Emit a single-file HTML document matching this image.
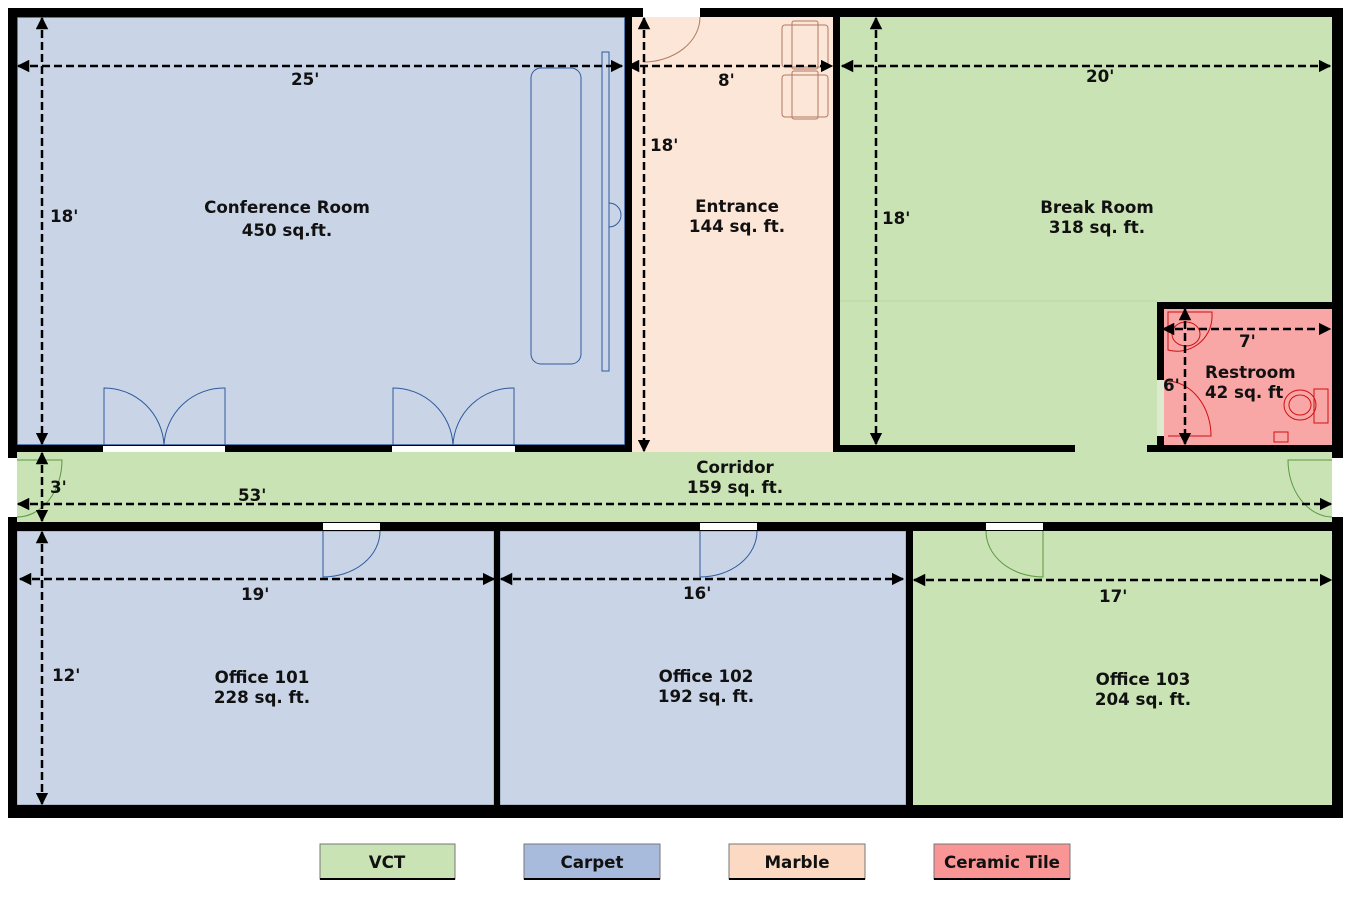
<!DOCTYPE html>
<html><head><meta charset="utf-8"><style>
html,body{margin:0;padding:0;background:#fff;}
svg text{font-family:"DejaVu Sans","Liberation Sans",sans-serif;font-weight:bold;font-size:16.7px;fill:#111;}
</style></head><body>
<svg width="1371" height="906" viewBox="0 0 1371 906" xmlns="http://www.w3.org/2000/svg">
<defs>
<marker id="a" viewBox="0 0 10 10" refX="9" refY="5" markerWidth="5" markerHeight="5" orient="auto-start-reverse"><path d="M0,0L10,5L0,10z" fill="#000"/></marker>
</defs>
<rect x="17" y="17" width="608" height="428" fill="#c9d5e7" stroke="#2e5a9c" stroke-width="1.5"/>
<rect x="632" y="17" width="201" height="435" fill="#fce6d8"/>
<rect x="840" y="17" width="492" height="428" fill="#c9e3b4"/>
<line x1="840" y1="301" x2="1157" y2="301" stroke="#b5d9a0" stroke-width="1"/>
<rect x="1164" y="309" width="168" height="136" fill="#f9a6a6"/>
<rect x="17" y="452" width="1315" height="70" fill="#c9e3b4"/>
<rect x="1075" y="445" width="72" height="8" fill="#c9e3b4"/>
<rect x="1157" y="380" width="7" height="56" fill="#dcebd0"/>
<rect x="17" y="531" width="477" height="274" fill="#c9d5e7" stroke="#8a9ab0" stroke-width="1"/>
<rect x="500" y="531" width="406" height="274" fill="#c9d5e7" stroke="#8a9ab0" stroke-width="1"/>
<rect x="913" y="531" width="419" height="274" fill="#c9e3b4"/>
<g fill="#000">
<rect x="8" y="8" width="635" height="9"/>
<rect x="700" y="8" width="643" height="9"/>
<rect x="8" y="8" width="9" height="450"/>
<rect x="625" y="8" width="7" height="444"/>
<rect x="833" y="8" width="7" height="444"/>
<rect x="1332" y="8" width="11" height="450"/>
<rect x="8" y="445" width="624" height="7"/>
<rect x="840" y="445" width="235" height="7"/>
<rect x="1147" y="445" width="196" height="7"/>
<rect x="1157" y="302" width="186" height="7"/>
<rect x="1157" y="302" width="7" height="78"/>
<rect x="1157" y="436" width="7" height="12"/>
<rect x="8" y="517" width="9" height="301"/>
<rect x="8" y="522" width="1335" height="9"/>
<rect x="1332" y="517" width="11" height="301"/>
<rect x="494" y="531" width="6" height="274"/>
<rect x="906" y="531" width="7" height="274"/>
<rect x="8" y="805" width="1335" height="13"/>
</g>
<g fill="#fff">
<rect x="103" y="446" width="122" height="6"/>
<rect x="392" y="446" width="123" height="6"/>
<rect x="323" y="523" width="57" height="7"/>
<rect x="700" y="523" width="57" height="7"/>
<rect x="986" y="523" width="57" height="7"/>
</g>
<g fill="none" stroke-width="1">
<rect x="531" y="68" width="50" height="296" rx="10" stroke="#2e5a9c"/>
<rect x="602" y="52" width="7" height="319" stroke="#2e5a9c"/>
<path d="M609,203 A12,12 0 0 1 609,227" stroke="#2e5a9c"/>
<path d="M104,445 V388 A60,60 0 0 1 164,445 M225,445 V388 A60,60 0 0 0 164,445" stroke="#2e5a9c"/>
<path d="M393,445 V388 A60,60 0 0 1 453,445 M514,445 V388 A60,60 0 0 0 453,445" stroke="#2e5a9c"/>
<path d="M643,62 A57,45 0 0 0 700,17" stroke="#b07a60"/>
<g stroke="#b07a60"><rect x="782" y="25" width="46" height="42" rx="3"/><rect x="792" y="21" width="26" height="48" rx="2"/><rect x="782" y="75" width="46" height="42" rx="3"/><rect x="792" y="71" width="26" height="48" rx="2"/></g>
<path d="M323,531 V577 A57,46 0 0 0 380,531" stroke="#2e5a9c"/>
<path d="M700,531 V577 A57,46 0 0 0 757,531" stroke="#2e5a9c"/>
<path d="M1043,531 V577 A57,46 0 0 1 986,531" stroke="#5a9a40"/>
<path d="M17,517 A45,57 0 0 0 62,460 H17" stroke="#5a9a40"/>
<path d="M1332,460 H1288 A45,57 0 0 0 1332,517" stroke="#5a9a40"/>
<g stroke="#d01010"><path d="M1168,436 H1211 A45,55 0 0 0 1168,381"/><path d="M1168,312 H1212 V318 A35,35 0 0 1 1168,350 Z"/><ellipse cx="1186" cy="334" rx="14" ry="12"/><ellipse cx="1300" cy="405" rx="16" ry="15"/><ellipse cx="1300" cy="405" rx="11" ry="10"/><rect x="1314" y="389" width="14" height="34"/><rect x="1274" y="432" width="14" height="10"/></g>
</g>
<g stroke="#000" stroke-width="2.5" stroke-dasharray="8,4" marker-start="url(#a)" marker-end="url(#a)" fill="none">
<line x1="18" y1="66" x2="622" y2="66"/>
<line x1="42" y1="18" x2="42" y2="444"/>
<line x1="628" y1="66" x2="832" y2="66"/>
<line x1="644" y1="18" x2="644" y2="451"/>
<line x1="842" y1="66" x2="1330" y2="66"/>
<line x1="876" y1="18" x2="876" y2="444"/>
<line x1="1163" y1="329" x2="1330" y2="329"/>
<line x1="1185" y1="309" x2="1185" y2="444"/>
<line x1="42" y1="453" x2="42" y2="521"/>
<line x1="18" y1="504" x2="1331" y2="504"/>
<line x1="42" y1="532" x2="42" y2="804"/>
<line x1="20" y1="579" x2="494" y2="579"/>
<line x1="501" y1="579" x2="903" y2="579"/>
<line x1="914" y1="580" x2="1331" y2="580"/>
</g>
<text x="291" y="85">25'</text>
<text x="50" y="222">18'</text>
<text x="718" y="86">8'</text>
<text x="650" y="151">18'</text>
<text x="1086" y="82">20'</text>
<text x="882" y="224">18'</text>
<text x="1239" y="347">7'</text>
<text x="1163" y="391">6'</text>
<text x="50" y="493">3'</text>
<text x="238" y="501">53'</text>
<text x="52" y="681">12'</text>
<text x="241" y="600">19'</text>
<text x="683" y="599">16'</text>
<text x="1099" y="602">17'</text>
<g text-anchor="middle">
<text x="287" y="213">Conference Room</text><text x="287" y="236">450 sq.ft.</text>
<text x="737" y="212">Entrance</text><text x="737" y="232">144 sq. ft.</text>
<text x="1097" y="213">Break Room</text><text x="1097" y="233">318 sq. ft.</text>
<text x="735" y="473">Corridor</text><text x="735" y="493">159 sq. ft.</text>
<text x="262" y="683">Office 101</text><text x="262" y="703">228 sq. ft.</text>
<text x="706" y="682">Office 102</text><text x="706" y="702">192 sq. ft.</text>
<text x="1143" y="685">Office 103</text><text x="1143" y="705">204 sq. ft.</text>
</g>
<text x="1205" y="378">Restroom</text><text x="1205" y="398">42 sq. ft</text>
<g stroke="#777" stroke-width="1">
<rect x="320" y="844" width="135" height="35" fill="#c9e3b4"/>
<rect x="524" y="844" width="136" height="35" fill="#a9bbdc"/>
<rect x="729" y="844" width="136" height="35" fill="#fcd9c2"/>
<rect x="934" y="844" width="136" height="35" fill="#f99595"/>
</g>
<g fill="#000"><rect x="320" y="878" width="135" height="2"/><rect x="524" y="878" width="136" height="2"/><rect x="729" y="878" width="136" height="2"/><rect x="934" y="878" width="136" height="2"/></g>
<g text-anchor="middle">
<text x="387" y="868">VCT</text><text x="592" y="868">Carpet</text><text x="797" y="868">Marble</text><text x="1002" y="868">Ceramic Tile</text>
</g>
</svg>
</body></html>
